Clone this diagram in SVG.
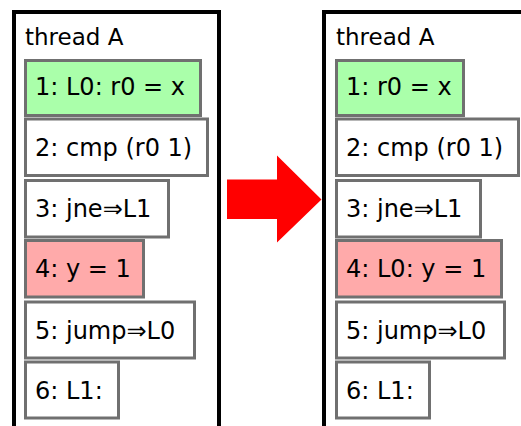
<svg xmlns="http://www.w3.org/2000/svg" width="521" height="426" viewBox="0 0 521 426">
<style>
.frame{fill:#ffffff;stroke:#000000;stroke-width:4}
.box{stroke:#707070;stroke-width:3}
.w{fill:#ffffff}
.g{fill:#aaffaa}
.r{fill:#ffaaaa}
text{font-family:"DejaVu Sans","Liberation Sans",sans-serif;fill:#000000}
.t{font-size:24px}
.h{font-size:23px}
</style>
<rect width="521" height="426" fill="#ffffff"/>
<g id="threadA-before">
<rect class="frame" x="14" y="12" width="205" height="430"/>
<text class="h" x="25" y="45">thread A</text>
</g>
<g id="b1"><rect class="box g" x="25.5" y="60.5" width="175" height="55"/><text class="t" x="35" y="95">1: L0: r0 = x</text></g>
<g id="b2"><rect class="box w" x="25.5" y="119" width="182" height="56.5"/><text class="t" x="35" y="155.5">2: cmp (r0 1)</text></g>
<g id="b3"><rect class="box w" x="25.5" y="180.5" width="143" height="56.5"/><text class="t" x="35" y="216.5">3: jne⇒L1</text></g>
<g id="b4"><rect class="box r" x="25.5" y="240.5" width="118" height="56.5"/><text class="t" x="35" y="277">4: y = 1</text></g>
<g id="b5"><rect class="box w" x="25.5" y="302" width="169" height="56"/><text class="t" x="35" y="338.5">5: jump⇒L0</text></g>
<g id="b6"><rect class="box w" x="25.5" y="362" width="93" height="56"/><text class="t" x="35" y="398.5">6: L1:</text></g>
<g id="threadA-after">
<rect class="frame" x="324" y="12" width="300" height="430"/>
<text class="h" x="336" y="45">thread A</text>
</g>
<g id="a1"><rect class="box g" x="336.5" y="60.5" width="127" height="55"/><text class="t" x="346" y="95">1: r0 = x</text></g>
<g id="a2"><rect class="box w" x="336.5" y="119" width="182" height="56.5"/><text class="t" x="346" y="155.5">2: cmp (r0 1)</text></g>
<g id="a3"><rect class="box w" x="336.5" y="180.5" width="144" height="56.5"/><text class="t" x="346" y="216.5">3: jne⇒L1</text></g>
<g id="a4"><rect class="box r" x="336.5" y="240.5" width="165" height="56.5"/><text class="t" x="346" y="277">4: L0: y = 1</text></g>
<g id="a5"><rect class="box w" x="336.5" y="302" width="168" height="56"/><text class="t" x="346" y="338.5">5: jump⇒L0</text></g>
<g id="a6"><rect class="box w" x="336.5" y="362" width="93" height="56"/><text class="t" x="346" y="398.5">6: L1:</text></g>
<g id="connectors">
<polygon points="227,179.5 277,179.5 277,155.5 321.5,199.5 277,242.5 277,219 227,219" fill="#ff0000"/>
</g>
</svg>
